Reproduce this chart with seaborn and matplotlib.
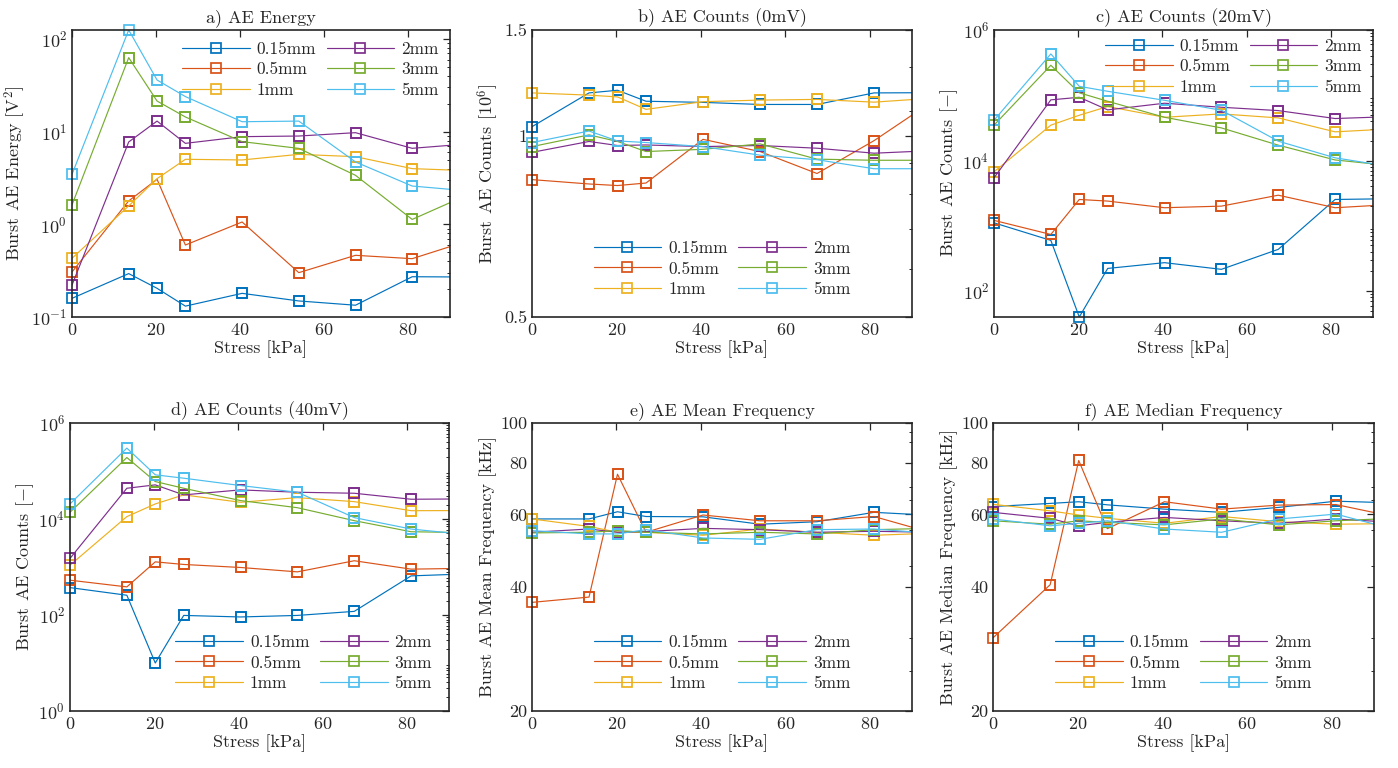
import numpy as np
import pandas as pd
import matplotlib
matplotlib.use("Agg")
import matplotlib.pyplot as plt
import seaborn as sns
from matplotlib.ticker import LogLocator, FixedLocator, FixedFormatter, NullFormatter, LogFormatterMathtext

# ---------------- data ----------------
stress = [0, 13.5, 20.25, 27, 40.5, 54, 67.5, 81, 94.5]
series = ["0.15mm", "0.5mm", "1mm", "2mm", "3mm", "5mm"]

energy = {
    "0.15mm": [0.159, 0.294, 0.204, 0.131, 0.180, 0.149, 0.134, 0.272, 0.270],
    "0.5mm":  [0.306, 1.79, 3.06, 0.598, 1.06, 0.301, 0.463, 0.426, 0.667],
    "1mm":    [0.43, 1.58, 3.11, 5.03, 4.95, 5.69, 5.37, 3.99, 3.79],
    "2mm":    [0.221, 7.74, 13.0, 7.48, 8.83, 8.97, 9.75, 6.61, 7.39],
    "3mm":    [1.62, 62.9, 21.4, 14.4, 7.8, 6.6, 3.38, 1.13, 2.11],
    "5mm":    [3.46, 125.0, 36.1, 23.9, 12.8, 13.0, 4.71, 2.59, 2.29],
}
counts0 = {
    "0.15mm": [1.036, 1.179, 1.191, 1.142, 1.137, 1.128, 1.128, 1.179, 1.180],
    "0.5mm":  [0.846, 0.832, 0.827, 0.835, 0.987, 0.942, 0.866, 0.982, 1.137],
    "1mm":    [1.179, 1.169, 1.161, 1.107, 1.140, 1.147, 1.150, 1.138, 1.155],
    "2mm":    [0.939, 0.979, 0.964, 0.966, 0.960, 0.964, 0.954, 0.936, 0.945],
    "3mm":    [0.960, 1.004, 0.979, 0.942, 0.950, 0.970, 0.915, 0.911, 0.911],
    "5mm":    [0.975, 1.019, 0.981, 0.975, 0.960, 0.929, 0.913, 0.882, 0.882],
}
counts20 = {
    "0.15mm": [1110, 597, 40, 222, 272, 215, 435, 2530, 2600],
    "0.5mm":  [1210, 736, 2530, 2390, 1890, 2000, 2940, 1890, 2120],
    "1mm":    [6710, 34800, 49400, 67100, 46000, 51800, 45000, 27500, 30600],
    "2mm":    [5430, 85000, 93100, 59700, 75500, 65500, 58200, 44000, 47100],
    "3mm":    [34800, 288000, 109000, 80900, 46000, 31600, 17200, 10200, 8300],
    "5mm":    [41400, 430000, 137000, 115000, 83700, 58900, 19800, 11000, 8000],
}
counts40 = {
    "0.15mm": [372, 258, 10, 98, 91, 98, 119, 653, 720],
    "0.5mm":  [531, 385, 1280, 1130, 977, 792, 1350, 902, 940],
    "1mm":    [1090, 11200, 20600, 31800, 22300, 27900, 23000, 14900, 15000],
    "2mm":    [1510, 43700, 51400, 31800, 40400, 36100, 34400, 25800, 26200],
    "3mm":    [13800, 191000, 60300, 43700, 24200, 17200, 9230, 5430, 5200],
    "5mm":    [20600, 300000, 83200, 70800, 49800, 36100, 10700, 6180, 4700],
}
mean_freq = {
    "0.15mm": [58.5, 58.5, 60.9, 59.3, 59.2, 56.8, 57.6, 60.7, 59.7],
    "0.5mm":  [36.7, 37.8, 75.1, 54.3, 59.8, 57.9, 57.9, 59.3, 54.2],
    "1mm":    [58.5, 56.1, 54.3, 54.3, 53.4, 55.3, 54.3, 53.4, 54.0],
    "2mm":    [54.3, 55.3, 54.3, 54.5, 55.5, 55.1, 54.3, 54.6, 54.3],
    "3mm":    [54.1, 54.3, 54.8, 54.3, 53.8, 54.3, 53.8, 55.1, 55.5],
    "5mm":    [54.8, 53.8, 53.8, 55.1, 52.6, 52.2, 55.1, 55.3, 54.0],
}
median_freq = {
    "0.15mm": [62.7, 63.8, 64.4, 63.3, 61.8, 60.7, 62.4, 64.6, 64.0],
    "0.5mm":  [30.1, 40.5, 81.1, 55.4, 64.4, 61.8, 63.2, 63.4, 59.3],
    "1mm":    [63.5, 61.2, 59.8, 58.7, 57.1, 59.3, 57.6, 56.8, 57.0],
    "2mm":    [60.7, 58.7, 56.3, 57.4, 59.0, 57.9, 57.1, 58.5, 57.4],
    "3mm":    [57.9, 56.8, 57.9, 57.4, 56.6, 58.5, 56.6, 57.9, 58.7],
    "5mm":    [58.5, 56.3, 57.1, 57.9, 55.3, 54.3, 58.5, 60.1, 55.3],
}

titles = ["a) AE Energy", "b) AE Counts (0mV)", "c) AE Counts (20mV)",
          "d) AE Counts (40mV)", "e) AE Mean Frequency", "f) AE Median Frequency"]
ylabels = ["Burst AE Energy [V$^2$]", "Burst AE Counts [10$^6$]", "Burst AE Counts [$-$]",
           "Burst AE Counts [$-$]", "Burst AE Mean Frequency [kHz]", "Burst AE Median Frequency [kHz]"]
xlabel = "Stress [kPa]"
xticks = [0, 20, 40, 60, 80]

# ---------------- style ----------------
sns.set_style("white")
plt.rcParams.update({
    "font.family": ["cmr10", "DejaVu Serif"],
    "mathtext.fontset": "cm",
    "axes.formatter.use_mathtext": True,
    "axes.unicode_minus": True,
    "font.size": 12,
    "axes.linewidth": 1.2,
    "axes.edgecolor": "#262626",
})
colors = ["#0072BD", "#D95319", "#EDB120", "#7E2F8E", "#77AC30", "#4DBEEE"]

fig = plt.figure(figsize=(13.98, 7.68), dpi=100)
W, H = 1398, 768
boxes = [(72, 30, 450, 317), (532, 30, 912, 317), (994, 30, 1373, 317),
         (70, 423, 449, 711), (532, 423, 912, 711), (993, 423, 1374, 711)]
axes = [fig.add_axes([l / W, 1 - b / H, (r - l) / W, (b - t) / H]) for (l, t, r, b) in boxes]

datasets = [energy, counts0, counts20, counts40, mean_freq, median_freq]
legend_locs = [("upper right", (1.0, 1.0)), ("lower center", (0.5, 0.03)), ("upper right", (1.0, 1.01)),
               ("lower right", (0.985, 0.03)), ("lower center", (0.5, 0.03)), ("lower center", (0.5, 0.03))]

MS = 7.4
xs = np.array(stress)
for i, (ax, data) in enumerate(zip(axes, datasets)):
    for name, c in zip(series, colors):
        ys = np.array(data[name])
        sns.lineplot(x=xs, y=ys, ax=ax, color=c, lw=0.85, marker="s", ms=MS,
                     mfc="none", mec=c, mew=1.25, label=name, errorbar=None, legend=False)
        m = xs <= 90
        sns.lineplot(x=xs[m], y=ys[m], ax=ax, color=c, lw=0, ls="none", marker="s", ms=MS,
                     mfc="none", mec=c, mew=1.25, errorbar=None, legend=False, clip_on=False)
    ax.set_yscale("log")
    ax.set_xlim(0, 90)
    ax.set_xticks(xticks)
    ax.set_title(titles[i], fontsize=13, pad=6)
    ax.set_xlabel(xlabel, fontsize=13, labelpad=2)
    ax.set_ylabel(ylabels[i], fontsize=13, labelpad=2)
    ax.tick_params(which="both", direction="in", top=True, right=True, labelsize=13)
    ax.tick_params(which="major", length=5, width=0.9)
    ax.tick_params(which="minor", length=2.5, width=0.7)
    loc, anchor = legend_locs[i]
    ax.legend(ncol=2, frameon=False, loc=loc, bbox_to_anchor=anchor, fontsize=12.5,
              handlelength=3.9, handletextpad=0.4, columnspacing=0.6, labelspacing=0.3,
              borderaxespad=0.25)
    ax.grid(False)

# a) energy
allE = np.concatenate([energy[s] for s in series])
axes[0].set_ylim(0.1, allE.max())
axes[0].yaxis.set_major_locator(LogLocator(base=10, numticks=10))
axes[0].yaxis.set_minor_locator(LogLocator(base=10, subs=np.arange(2, 10), numticks=20))
axes[0].yaxis.set_minor_formatter(NullFormatter())
# b) counts 0mV
axes[1].set_ylim(0.5, 1.5)
axes[1].yaxis.set_major_locator(FixedLocator([0.5, 1, 1.5]))
axes[1].yaxis.set_major_formatter(FixedFormatter(["0.5", "1", "1.5"]))
axes[1].yaxis.set_minor_locator(FixedLocator([0.6, 0.7, 0.8, 0.9, 1.1, 1.3]))
axes[1].yaxis.set_minor_formatter(NullFormatter())
# c) counts 20mV
allC = np.concatenate([counts20[s] for s in series])
axes[2].set_ylim(allC.min(), 1e6)
axes[2].yaxis.set_major_locator(FixedLocator([1e2, 1e4, 1e6]))
axes[2].yaxis.set_major_formatter(LogFormatterMathtext())
axes[2].yaxis.set_minor_locator(LogLocator(base=10, subs=np.arange(2, 10), numticks=30))
axes[2].yaxis.set_minor_formatter(NullFormatter())
# d) counts 40mV
axes[3].set_ylim(1, 1e6)
axes[3].yaxis.set_major_locator(FixedLocator([1, 1e2, 1e4, 1e6]))
axes[3].yaxis.set_major_formatter(LogFormatterMathtext())
axes[3].yaxis.set_minor_locator(LogLocator(base=10, subs=np.arange(2, 10), numticks=30))
axes[3].yaxis.set_minor_formatter(NullFormatter())
# e, f) frequencies
for ax in axes[4:]:
    ax.set_ylim(20, 100)
    ax.yaxis.set_major_locator(FixedLocator([20, 40, 60, 80, 100]))
    ax.yaxis.set_major_formatter(FixedFormatter(["20", "40", "60", "80", "100"]))
    ax.yaxis.set_minor_locator(FixedLocator([25, 30, 45, 55, 65, 70, 90, 95]))
    ax.yaxis.set_minor_formatter(NullFormatter())

fig.savefig("out.png", dpi=100, facecolor="white")
